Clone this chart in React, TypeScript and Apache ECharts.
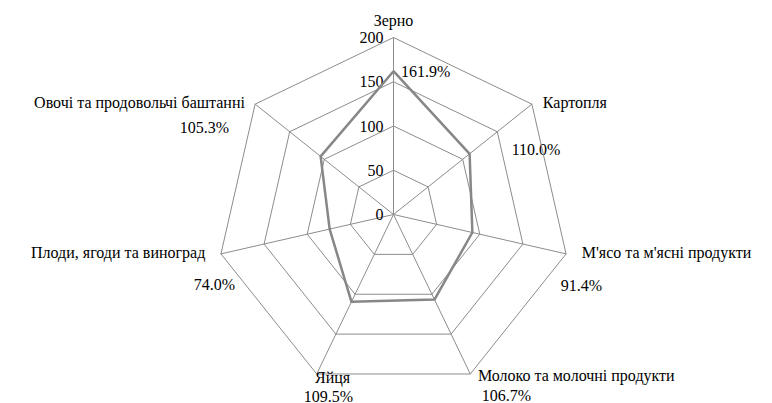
import React, { useEffect, useRef } from "react";
import * as echarts from "echarts";

const categories = [
  "Зерно",
  "Картопля",
  "М'ясо та м'ясні продукти",
  "Молоко та молочні продукти",
  "Яйця",
  "Плоди, ягоди та виноград",
  "Овочі та продовольчі баштанні",
];
const values = [161.9, 110.0, 91.4, 106.7, 109.5, 74.0, 105.3];
const axisMin = 0;
const axisMax = 200;
const tickStep = 50;
const pointLabelIndex = 0;

// ECharts lays indicators counter-clockwise; the reference runs clockwise.
const order = [0, 6, 5, 4, 3, 2, 1];

// name placement per category (layout only)
const NAME_LAYOUT: {
  gap: number;
  align?: string;
  vAlign?: string;
  lh?: number;
}[] = [
  { gap: 8.5 },
  { gap: 14, vAlign: "top", lh: 15 },
  { gap: 16, vAlign: "bottom", lh: 9 },
  { gap: 17.5, vAlign: "bottom", lh: 28 },
  { gap: 4, align: "left" },
  { gap: 16, vAlign: "bottom", lh: 9 },
  { gap: 13, vAlign: "top", lh: 12 },
];

// centre of each percentage caption (layout only)
const PCT_POS: (number[] | null)[] = [
  null,
  [536, 149],
  [581.5, 285],
  [506.5, 395],
  [328.5, 396],
  [214.5, 284],
  [204.5, 127],
];

const FONT = "Liberation Serif";
const FS = 16;
const GRID = "#8c8c8c";
const LINE = "#878787";

const pct = (v: number) => v.toFixed(1) + "%";

export default function App() {
  const ref = useRef<HTMLDivElement>(null);
  useEffect(() => {
    if (!ref.current) return;
    const chart = echarts.init(ref.current, undefined, { renderer: "svg" });

    const indicator = order.map((i, k) => {
      const l = NAME_LAYOUT[i];
      const nts: any = {};
      if (l.align) nts.align = l.align;
      if (l.vAlign) nts.verticalAlign = l.vAlign;
      if (l.lh) nts.lineHeight = l.lh;
      const ind: any = {
        name: categories[i],
        min: axisMin,
        max: axisMax,
        nameGap: l.gap,
        nameTextStyle: nts,
      };
      if (k === 0) {
        ind.axisLabel = {
          show: true,
          fontFamily: FONT,
          fontSize: FS,
          color: "#000",
          margin: 10,
        };
      }
      return ind;
    });

    const graphic = PCT_POS.map((p, i) =>
      p
        ? {
            type: "text",
            x: p[0],
            y: p[1],
            style: {
              text: pct(values[i]),
              fontFamily: FONT,
              fontSize: FS,
              fill: "#000",
              align: "center",
              verticalAlign: "middle",
            },
          }
        : null
    ).filter(Boolean);

    chart.setOption({
      animation: false,
      backgroundColor: "#fff",
      textStyle: { fontFamily: FONT },
      radar: {
        center: [393.5, 214.5],
        radius: 177,
        startAngle: 90,
        shape: "polygon",
        splitNumber: (axisMax - axisMin) / tickStep,
        indicator,
        axisName: {
          fontFamily: FONT,
          fontSize: FS,
          lineHeight: 18,
          color: "#000",
        },
        axisLine: { lineStyle: { color: GRID, width: 1 } },
        splitLine: { lineStyle: { color: GRID, width: 1 } },
        splitArea: { show: false },
        axisTick: { show: false },
        axisLabel: { show: false },
      },
      graphic,
      series: [
        {
          type: "radar",
          symbol: "circle",
          symbolSize: 1,
          itemStyle: { color: LINE },
          lineStyle: { color: LINE, width: 2.5 },
          label: {
            show: true,
            position: "right",
            distance: 7,
            fontFamily: FONT,
            fontSize: FS,
            color: "#000",
            formatter: (p: any) =>
              p.value === values[pointLabelIndex] ? pct(values[pointLabelIndex]) : "",
          },
          data: [{ value: order.map((i) => values[i]), name: "Індекс" }],
        },
      ],
    });
    return () => chart.dispose();
  }, []);
  return (
    <div
      ref={ref}
      style={{ position: "fixed", left: 0, top: 0, width: 772, height: 403 }}
    />
  );
}
